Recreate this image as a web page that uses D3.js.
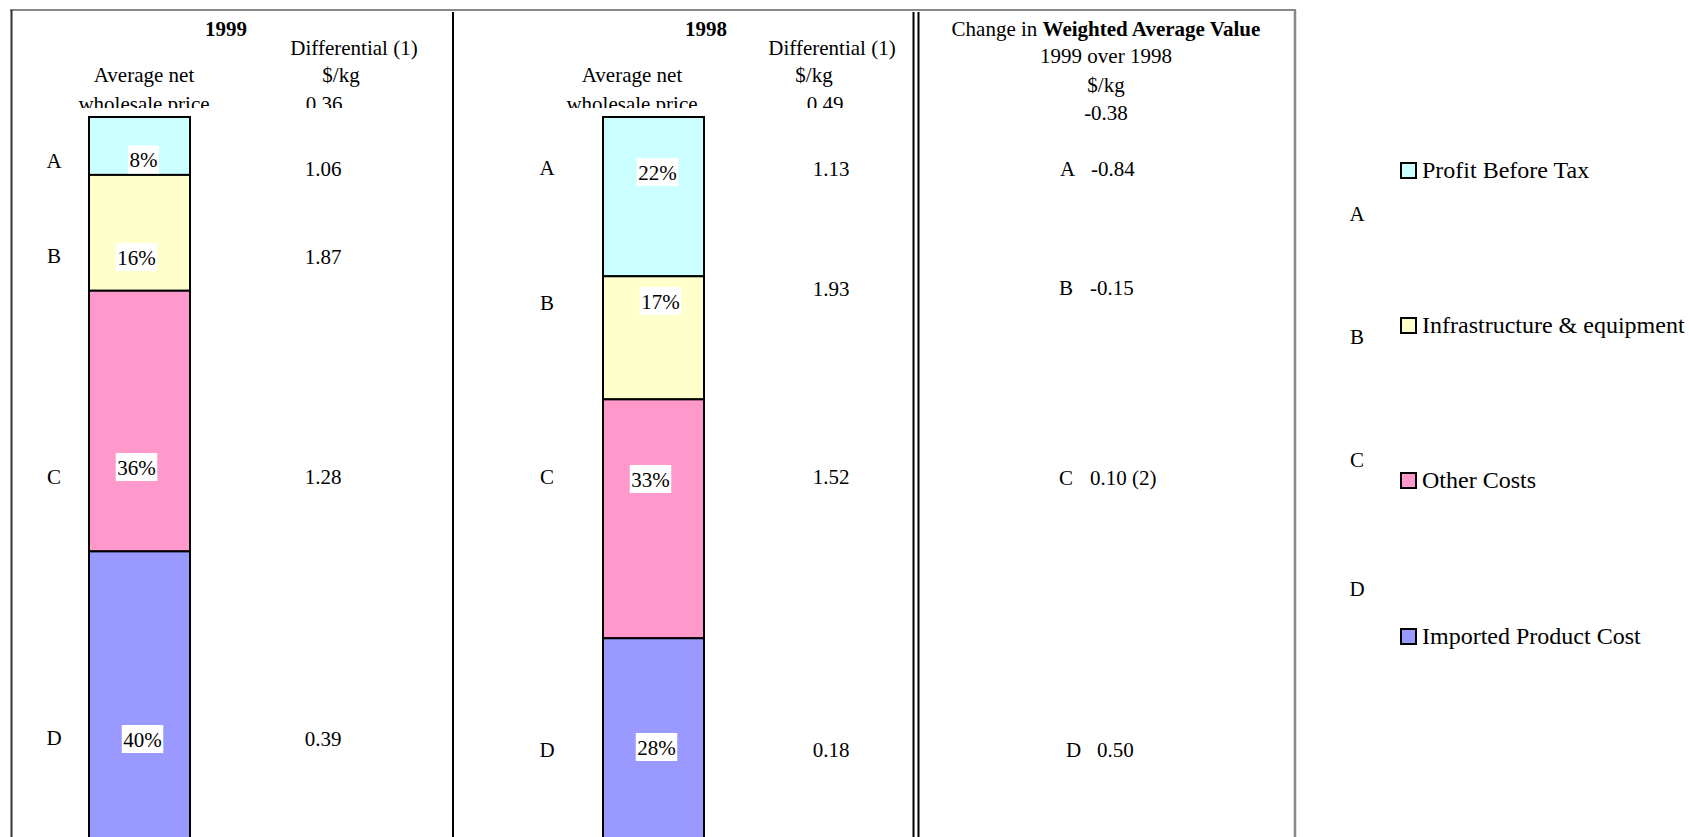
<!DOCTYPE html>
<html>
<head>
<meta charset="utf-8">
<script src="https://cdn.jsdelivr.net/npm/d3@7"></script>
<style>
  html, body { margin: 0; padding: 0; background: #fff; }
  svg { display: block; }
  text { font-family: "Liberation Serif", "Times New Roman", serif; fill: #000; }
</style>
</head>
<body>
<svg id="chart" width="1689" height="837"></svg>
<script>
// ---- data ----
const categories = ["A", "B", "C", "D"];
const seriesNames = ["Profit Before Tax", "Infrastructure & equipment", "Other Costs", "Imported Product Cost"];
const seriesColors = ["#CCFFFF", "#FFFFCC", "#FF99CC", "#9999FF"];

const share1999 = [8, 16, 36, 40];      // % of average net wholesale price
const share1998 = [22, 17, 33, 28];
const diff1999 = ["1.06", "1.87", "1.28", "0.39"];   // differential, $/kg
const diff1998 = ["1.13", "1.93", "1.52", "0.18"];
const avgDiff1999 = "0.36";
const avgDiff1998 = "0.49";
const changeValues = ["-0.84", "-0.15", "0.10 (2)", "0.50"];  // change 1999 over 1998, $/kg
const changeTotal = "-0.38";

// ---- layout ----
const W = 1689, H = 837;
const FS = 21;
const svg = d3.select("#chart");

const y = d3.scaleLinear().domain([0, 100]).range([117, 841]);

const panels = [
  {
    year: "1999", shares: share1999, diffs: diff1999, avg: avgDiff1999,
    barX: 89, barW: 101,
    yearX: 226, avgLabelX: 144, diffX: 354, unitX: 341, avgX: 324,
    letterX: 54, valueX: 323,
    letterY: [168, 263, 484, 745], valueY: [176, 264, 484, 746],
    pctY: [159.5, 257, 467, 739], pctDx: [4, -3, -3, 3]
  },
  {
    year: "1998", shares: share1998, diffs: diff1998, avg: avgDiff1998,
    barX: 603, barW: 101,
    yearX: 706, avgLabelX: 632, diffX: 832, unitX: 814, avgX: 825,
    letterX: 547, valueX: 831,
    letterY: [175, 310, 484, 757], valueY: [176, 296, 484, 757],
    pctY: [172, 301, 479, 747], pctDx: [4, 7, -3, 3]
  }
];

// clip for panel headers (the plot area cuts them off)
svg.append("defs").append("clipPath").attr("id", "headClip")
  .append("rect").attr("x", 0).attr("y", 0).attr("width", 912).attr("height", 108);

panels.forEach(p => {
  const head = svg.append("g").attr("clip-path", "url(#headClip)")
    .style("font-size", FS + "px").attr("text-anchor", "middle");
  head.append("text").attr("x", p.yearX).attr("y", 36).style("font-weight", "bold").text(p.year);
  head.append("text").attr("x", p.diffX).attr("y", 55).text("Differential (1)");
  head.append("text").attr("x", p.unitX).attr("y", 82).text("$/kg");
  head.append("text").attr("x", p.avgLabelX).attr("y", 82).text("Average net");
  head.append("text").attr("x", p.avgLabelX).attr("y", 111).text("wholesale price");
  head.append("text").attr("x", p.avgX).attr("y", 111).text(p.avg);

  // stacked bar
  const stack = [];
  let acc = 0;
  p.shares.forEach((v, i) => { stack.push({ i, y0: acc, y1: acc + v, v }); acc += v; });

  const g = svg.append("g");
  g.selectAll("rect.seg").data(stack).join("rect")
    .attr("class", "seg")
    .attr("x", p.barX).attr("width", p.barW)
    .attr("y", d => y(d.y0)).attr("height", d => y(d.y1) - y(d.y0))
    .attr("fill", d => seriesColors[d.i])
    .attr("stroke", "#000").attr("stroke-width", 2);

  // percentage labels on white boxes
  const lab = g.selectAll("g.pct").data(stack).join("g").attr("class", "pct")
    .attr("transform", d => `translate(${p.barX + p.barW / 2 + p.pctDx[d.i]},${p.pctY[d.i]})`);
  lab.each(function (d) {
    const sel = d3.select(this);
    const t = sel.append("text").attr("text-anchor", "middle").attr("y", 7.5)
      .style("font-size", FS + "px").text(d.v + "%");
    const w = t.node().getComputedTextLength();
    sel.insert("rect", "text").attr("x", -w / 2 - 1.5).attr("y", -14)
      .attr("width", w + 3).attr("height", 28).attr("fill", "#fff");
  });

  // category letters and differential values
  g.selectAll("text.cat").data(categories).join("text").attr("class", "cat")
    .attr("text-anchor", "middle").style("font-size", FS + "px")
    .attr("x", p.letterX).attr("y", (d, i) => p.letterY[i]).text(d => d);
  g.selectAll("text.val").data(p.diffs).join("text").attr("class", "val")
    .attr("text-anchor", "middle").style("font-size", FS + "px")
    .attr("x", p.valueX).attr("y", (d, i) => p.valueY[i]).text(d => d);
});

// ---- change panel ----
const chg = svg.append("g").style("font-size", FS + "px");
const ttl = chg.append("text").attr("x", 1106).attr("y", 36).attr("text-anchor", "middle");
ttl.append("tspan").text("Change in ");
ttl.append("tspan").style("font-weight", "bold").text("Weighted Average Value");
chg.append("text").attr("x", 1106).attr("y", 63).attr("text-anchor", "middle").text("1999 over 1998");
chg.append("text").attr("x", 1106).attr("y", 92).attr("text-anchor", "middle").text("$/kg");
chg.append("text").attr("x", 1106).attr("y", 120).attr("text-anchor", "middle").text(changeTotal);

const changeLetterX = [1060, 1059, 1059, 1066];
const changeY = [176, 295, 485, 757];
chg.selectAll("text.cl").data(categories).join("text").attr("class", "cl")
  .attr("x", (d, i) => changeLetterX[i]).attr("y", (d, i) => changeY[i]).text(d => d);
chg.selectAll("text.cv").data(changeValues).join("text").attr("class", "cv")
  .attr("x", (d, i) => changeLetterX[i] + 31).attr("y", (d, i) => changeY[i]).text(d => d);

// ---- frame ----
const frame = svg.append("g").attr("fill", "none");
frame.append("line").attr("x1", 10).attr("x2", 1296).attr("y1", 10).attr("y2", 10)
  .attr("stroke", "#888").attr("stroke-width", 2);
frame.append("line").attr("x1", 11.5).attr("x2", 11.5).attr("y1", 10).attr("y2", H)
  .attr("stroke", "#333").attr("stroke-width", 2);
frame.append("line").attr("x1", 1295).attr("x2", 1295).attr("y1", 10).attr("y2", H)
  .attr("stroke", "#888").attr("stroke-width", 2.5);
[453, 913.5, 918.5].forEach(x => {
  frame.append("line").attr("x1", x).attr("x2", x).attr("y1", 12).attr("y2", H)
    .attr("stroke", "#000").attr("stroke-width", 2);
});

// ---- legend ----
const legendTextY = [178, 333, 488, 644];
const legendLetterY = [221, 344, 467, 596];
const leg = svg.append("g");
const items = leg.selectAll("g.item").data(seriesNames).join("g").attr("class", "item")
  .attr("transform", (d, i) => `translate(1401,${legendTextY[i]})`);
items.append("rect").attr("x", 0).attr("y", -15).attr("width", 15).attr("height", 15)
  .attr("fill", (d, i) => seriesColors[i]).attr("stroke", "#000").attr("stroke-width", 2);
items.append("text").attr("x", 21).attr("y", 0).style("font-size", "24px").text(d => d);
leg.selectAll("text.ll").data(categories).join("text").attr("class", "ll")
  .attr("text-anchor", "middle").style("font-size", FS + "px")
  .attr("x", 1357).attr("y", (d, i) => legendLetterY[i]).text(d => d);
</script>
</body>
</html>
